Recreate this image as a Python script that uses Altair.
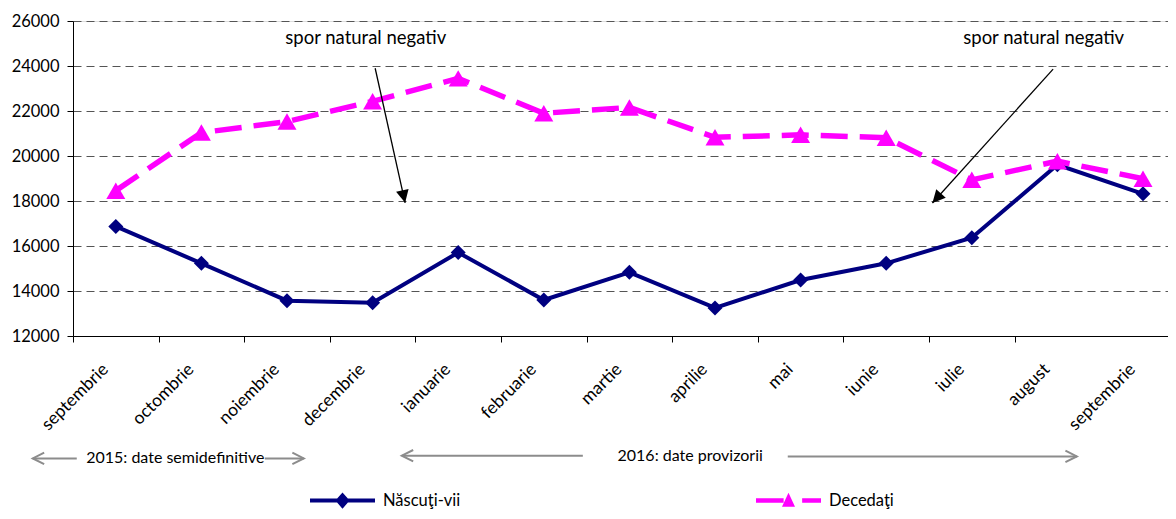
import math
import altair as alt
import pandas as pd

# ---------------- data ----------------
months = ["septembrie", "octombrie", "noiembrie", "decembrie", "ianuarie", "februarie",
          "martie", "aprilie", "mai", "iunie", "iulie", "august", "septembrie"]
nascuti = [16870, 15230, 13570, 13480, 15710, 13600, 14830, 13250, 14490, 15230, 16370, 19610, 18320]
decedati = [18460, 21040, 21530, 22430, 23450, 21900, 22160, 20830, 20940, 20810, 18940, 19770, 18990]
series_names = ["Născuţi-vii", "Decedaţi"]
series_colors = ["#000080", "#FF00FF"]

y_ticks = list(range(12000, 26001, 2000))

# annotations (data coordinates: x = month index, y = value)
note_text = ["spor natural negativ", "spor natural negativ"]
note_x = [2.92, 10.84]
note_y = [25240, 25240]
arrow_x = [3.03, 10.95]
arrow_y = [23900, 23860]
arrow_x2 = [3.38, 9.54]
arrow_y2 = [17920, 17910]

period_text = ["2015: date semidefinitive", "2016: date provizorii"]
period_x = [0.695, 6.71]
period_y = [6600, 6650]
seg_x = [-0.97, 1.741, 3.341, 7.85]
seg_x2 = [-0.456, 2.196, 5.456, 11.227]
seg_y = [6560, 6560, 6680, 6650]
head_x = [-0.97, 2.196, 3.341, 11.227]
head_y = [6560, 6560, 6680, 6650]
head_dir = [0, 180, 0, 180]

# ---------------- layout ----------------
W, H = 1095, 315
X_DOMAIN = [-0.5, -0.5 + W / 85.6]
Y_DOMAIN = [12000, 26000]
px_i = W / (X_DOMAIN[1] - X_DOMAIN[0])
px_v = H / (Y_DOMAIN[1] - Y_DOMAIN[0])

FONT = "Lato"

xscale = alt.Scale(domain=X_DOMAIN, nice=False, zero=False)
yscale = alt.Scale(domain=Y_DOMAIN, nice=False, zero=False)

label_expr = "[" + ",".join("'" + m + "'" for m in months) + "][datum.value]"

x_tick_axis = alt.Axis(orient="bottom", values=[k - 0.5 for k in range(len(months) - 1)],
                       labels=False, grid=False, ticks=True, tickSize=6, tickColor="black",
                       domainColor="black", domainWidth=1, title=None)
x_label_axis = alt.Axis(orient="bottom", values=list(range(len(months))), labelExpr=label_expr,
                        labelAngle=-45, ticks=False, domain=False, grid=False, labelPadding=24,
                        labelOffset=-17, labelFont=FONT, labelFontSize=17.5, labelColor="black",
                        labelOverlap=False, labelFlush=False, title=None)
y_axis = alt.Axis(orient="left", values=y_ticks, format="d", grid=True, gridDash=[8, 5],
                  gridColor="#555555", gridWidth=1, tickSize=6, tickColor="black",
                  domainColor="black", labelPadding=8, labelFont=FONT, labelFontSize=16.5,
                  labelColor="black", title=None)

idx = list(range(len(months)))
df_n = pd.DataFrame({"i": idx, "v": nascuti, "series": series_names[0]})
df_d = pd.DataFrame({"i": idx, "v": decedati, "series": series_names[1]})
df_all = pd.concat([df_n, df_d], ignore_index=True)


def X(field, axis=None):
    return alt.X(field, scale=xscale, axis=axis)


def Y(field):
    return alt.Y(field, scale=yscale, axis=y_axis)


# lines and markers
line_n = alt.Chart(df_n).mark_line(color=series_colors[0], strokeWidth=4).encode(
    x=X("i:Q", x_tick_axis), y=Y("v:Q"),
)
pts_n = alt.Chart(df_n).mark_point(shape="diamond", filled=True, color=series_colors[0],
                                   size=225, opacity=1).encode(x=X("i:Q"), y=Y("v:Q"))
line_d = alt.Chart(df_d).mark_line(color=series_colors[1], strokeWidth=5.5,
                                   strokeDash=[27, 12]).encode(
    x=X("i:Q", x_label_axis), y=Y("v:Q"),
)
pts_d = alt.Chart(df_d).mark_point(shape="triangle-up", filled=True, color=series_colors[1],
                                   size=361, opacity=1).encode(x=X("i:Q"), y=Y("v:Q"))

# legend (custom symbols: line + marker)
path_n = "M-1,-0.06H1V0.06H-1Z M0,-0.25L0.22,0L0,0.25L-0.22,0Z"
path_d = "M-1,-0.07H-0.15V0.07H-1Z M0.42,-0.07H1V0.07H0.42Z M0,-0.24L0.2,0.19L-0.2,0.19Z"
leg = dict(title=None, orient="none", legendX=237, legendY=447, direction="horizontal",
           columns=2, columnPadding=295, symbolSize=4225, symbolStrokeWidth=0,
           labelFont=FONT, labelFontSize=16.5, labelColor="black", labelOffset=8, padding=0)
legend_layer = alt.Chart(df_all).transform_filter("false").mark_point(filled=True, opacity=1).encode(
    x=X("i:Q"), y=Y("v:Q"),
    color=alt.Color("series:N", scale=alt.Scale(domain=series_names, range=series_colors),
                    legend=alt.Legend(**leg)),
    shape=alt.Shape("series:N", scale=alt.Scale(domain=series_names, range=[path_n, path_d]),
                    legend=alt.Legend(**leg)),
)

# black arrows "spor natural negativ"
angles = []
for x0, y0, x1, y1 in zip(arrow_x, arrow_y, arrow_x2, arrow_y2):
    dx = (x1 - x0) * px_i
    dy = -(y1 - y0) * px_v
    angles.append((-math.degrees(math.atan2(dx, dy))) % 360)
df_arrows = pd.DataFrame({"x": arrow_x, "y": arrow_y, "x2": arrow_x2, "y2": arrow_y2, "a": angles})
df_notes = pd.DataFrame({"x": note_x, "y": note_y, "t": note_text})

arrow_lines = alt.Chart(df_arrows).mark_rule(color="black", strokeWidth=1.3).encode(
    x=X("x:Q"), x2="x2:Q", y=Y("y:Q"), y2="y2:Q",
)
arrow_heads = alt.Chart(df_arrows).mark_point(shape="M0,0L-0.8,-1.6L0.8,-1.6Z", filled=True,
                                              color="black", size=256, opacity=1).encode(
    x=X("x2:Q"), y=Y("y2:Q"), angle=alt.Angle("a:Q", scale=None),
)
notes = alt.Chart(df_notes).mark_text(font=FONT, fontSize=18.5, color="black").encode(
    x=X("x:Q"), y=Y("y:Q"), text="t:N",
)

# grey period arrows
df_seg = pd.DataFrame({"x": seg_x, "x2": seg_x2, "y": seg_y})
df_head = pd.DataFrame({"x": head_x, "y": head_y, "a": head_dir})
df_period = pd.DataFrame({"x": period_x, "y": period_y, "t": period_text})

seg_lines = alt.Chart(df_seg).mark_rule(color="#8c8c8c", strokeWidth=2).encode(
    x=X("x:Q"), x2="x2:Q", y=Y("y:Q"),
)
seg_heads = alt.Chart(df_head).mark_point(shape="M2,-1L0,0L2,1", filled=False, color="#8c8c8c",
                                          strokeWidth=2, size=130, opacity=1).encode(
    x=X("x:Q"), y=Y("y:Q"), angle=alt.Angle("a:Q", scale=None),
)
period_labels = alt.Chart(df_period).mark_text(font=FONT, fontSize=16, color="black").encode(
    x=X("x:Q"), y=Y("y:Q"), text="t:N",
)

chart = alt.layer(
    line_n, pts_n, line_d, pts_d, legend_layer,
    arrow_lines, arrow_heads, notes,
    seg_lines, seg_heads, period_labels,
).resolve_axis(x="independent").properties(
    width=W, height=H,
    autosize=alt.AutoSizeParams(type="none"),
    padding={"left": 65, "top": 13, "right": 0, "bottom": 174},
    background="white",
).configure_view(stroke=None).configure(font=FONT)

chart.save("out.html", embed_options={"renderer": "svg", "actions": False})
